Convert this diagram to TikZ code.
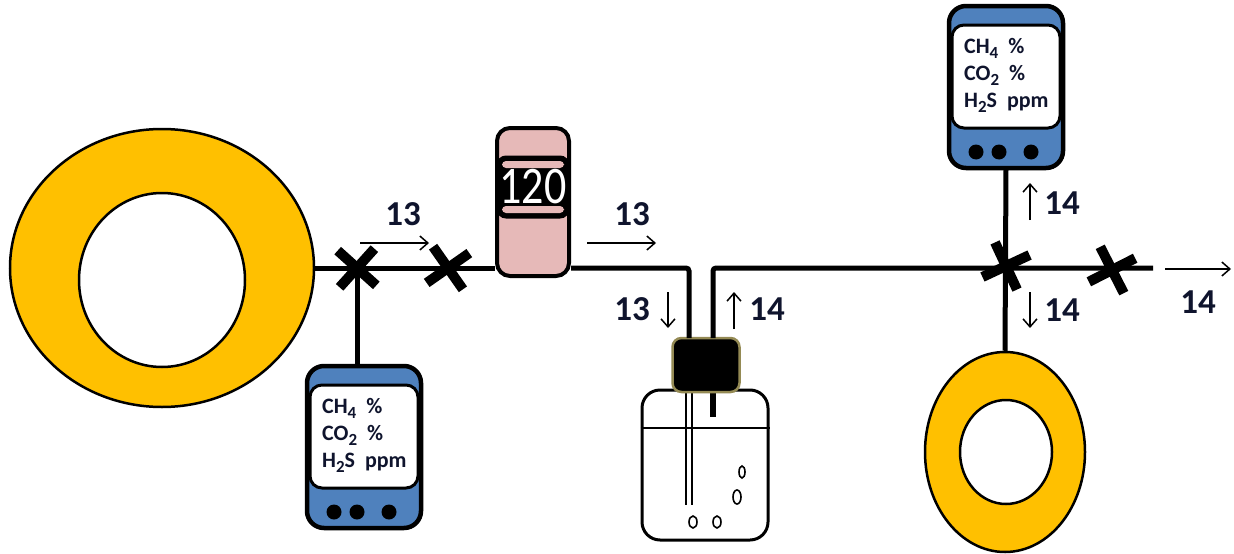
\documentclass[tikz,border=0pt]{standalone}
\usepackage{fontspec}
\usepackage{graphicx}
\setmainfont{Carlito}
\usetikzlibrary{arrows.meta,shapes.geometric}

\definecolor{gasyellow}{RGB}{255,192,0}
\definecolor{meterblue}{RGB}{79,129,189}
\definecolor{flowpink}{RGB}{230,185,184}
\definecolor{capolive}{RGB}{148,138,84}
\definecolor{ink}{RGB}{15,20,45}

\newcommand{\sub}[1]{\raisebox{-5pt}{\fontsize{17}{17}\selectfont #1}}

\tikzset{
  pipe/.style = {line width=5pt, rounded corners=3pt},
  flow/.style = {line width=1.5pt, -{Straight Barb[length=8pt,width=14pt,line width=1.5pt]}},
  num/.style  = {font=\fontsize{35}{40}\selectfont\bfseries, text=ink, inner sep=0pt},
  ring/.style = {ellipse, draw, line width=2.5pt, fill=gasyellow, inner sep=0pt},
  hole/.style = {ellipse, draw, line width=2.5pt, fill=white, inner sep=0pt},
  valve/.pic  = {
    \draw[line width=10pt] (135:26) -- (-45:26);
    \draw[line width=10pt] (45:26) -- (225:26);
  },
  analyzer/.pic = {
    \draw[line width=4.5pt, fill=meterblue, rounded corners=17pt] (-57,-81) rectangle (57,81);
    \draw[line width=3pt, fill=white, rounded corners=12pt] (-54,-62) rectangle (54,41);
    \foreach \dx in {-30,-7,25}
      \fill (\dx,65) circle[radius=7.5pt];
    \coordinate (-top) at (0,-81);
    \coordinate (-bottom) at (0,81);
    \node[anchor=west, align=left, inner sep=0pt, text=ink,
          font=\fontsize{22}{27}\selectfont\bfseries] (-text) at (-42,-12)
      {CH\sub{4}\ \ \%\\CO\sub{2}\ \ \%\\H\sub{2}S\ \ ppm};
  }
}

\begin{document}
\begin{tikzpicture}[x=1pt, y=-1pt]
\useasboundingbox (0,0) rectangle (1234,554);

% gas bags
\node[ring, minimum width=304pt, minimum height=278pt] (tank) at (162,268) {};
\node[hole, minimum width=166pt, minimum height=174pt] (tankhole) at (162,280) {};
\node[ring, minimum width=160pt, minimum height=200pt] (pot) at (1005,452) {};
\node[hole, minimum width=92pt, minimum height=104pt] (pothole) at (1006,452) {};

% flow meter
\node[draw, line width=4pt, fill=flowpink, rounded corners=13pt,
      minimum width=72pt, minimum height=148pt] (fm) at (533,202) {};
\draw[line width=3pt, fill=black, rounded corners=8pt] (498,157) rectangle (568,217);
\fill[flowpink, rounded corners=4pt] (502,161) rectangle (564,168);
\fill[flowpink, rounded corners=4pt] (502,206) rectangle (564,213);
\node[text=white, inner sep=0pt, font=\fontsize{44}{44}\selectfont] (fmread) at (533,187)
  {\scalebox{1}[1.2]{120}};

% wash bottle
\node[draw, line width=3pt, fill=white, rounded corners=18pt,
      minimum width=126pt, minimum height=150pt] (jar) at (705,465) {};
\draw[line width=2.5pt] (jar.west |- 0,428) -- (jar.east |- 0,428);
\draw[line width=1.4pt] (686,390) -- (686,505);
\draw[line width=1.4pt] (692,390) -- (692,505);
\draw[line width=6pt] (713,390) -- (713,417);
\foreach \bx/\by/\rx/\ry in {742/472/3/6, 737/497/4/7, 693/522/4/6, 717/522/4/6}
  \draw[line width=1.6pt] (\bx,\by) ellipse[x radius=\rx pt, y radius=\ry pt];
\node[draw=capolive, line width=2.5pt, fill=black, rounded corners=9pt,
      minimum width=67pt, minimum height=54pt] (cap) at (706,365) {};

% analyzers
\pic (an1) at (364,447) {analyzer};
\pic (an2) at (1006,87) {analyzer};

% pipework
\coordinate (v1) at (357,268);
\coordinate (v2) at (448,268);
\coordinate (v3) at (1006,266);
\coordinate (v4) at (1112,270);
\coordinate (pend) at (1153,268);
\coordinate (capin) at (689,338);
\coordinate (capout) at (713,338);
\draw[pipe] (tank.east) -- (fm.west |- tank.east);
\draw[pipe] (fm.east |- tank.east) -| (capin);
\draw[pipe] (capout) |- (pend);
\draw[pipe] (v1) -- (v1 |- an1-top);
\draw[pipe] (an2-bottom) -- (pot.north);

% valves
\pic[rotate=3] at (v1) {valve};
\pic[rotate=-10] at (v2) {valve};
\pic[rotate=-20] at (v3) {valve};
\pic[rotate=-18] at (v4) {valve};

% flow labels
\node[num] (q1) at (403,214) {13};
\draw[flow] ([shift={(-43,29)}]q1.center) -- ++(69,0);
\node[num] (q2) at (632,214) {13};
\draw[flow] ([shift={(-45,29)}]q2.center) -- ++(69,0);
\node[num] (q3) at (632,309) {13};
\draw[flow] ([shift={(36,-17)}]q3.center) -- ++(0,36);
\node[num] (q4) at (767,309) {14};
\draw[flow] ([shift={(-33,20)}]q4.center) -- ++(0,-37);
\node[num] (q5) at (1062,203) {14};
\draw[flow] ([shift={(-32,17)}]q5.center) -- ++(0,-37);
\node[num] (q6) at (1062,310) {14};
\draw[flow] ([shift={(-32,-18)}]q6.center) -- ++(0,36);
\node[num] (q7) at (1198,302) {14};
\draw[flow] ([shift={(-33,-33)}]q7.center) -- ++(66,0);
\end{tikzpicture}
\end{document}
